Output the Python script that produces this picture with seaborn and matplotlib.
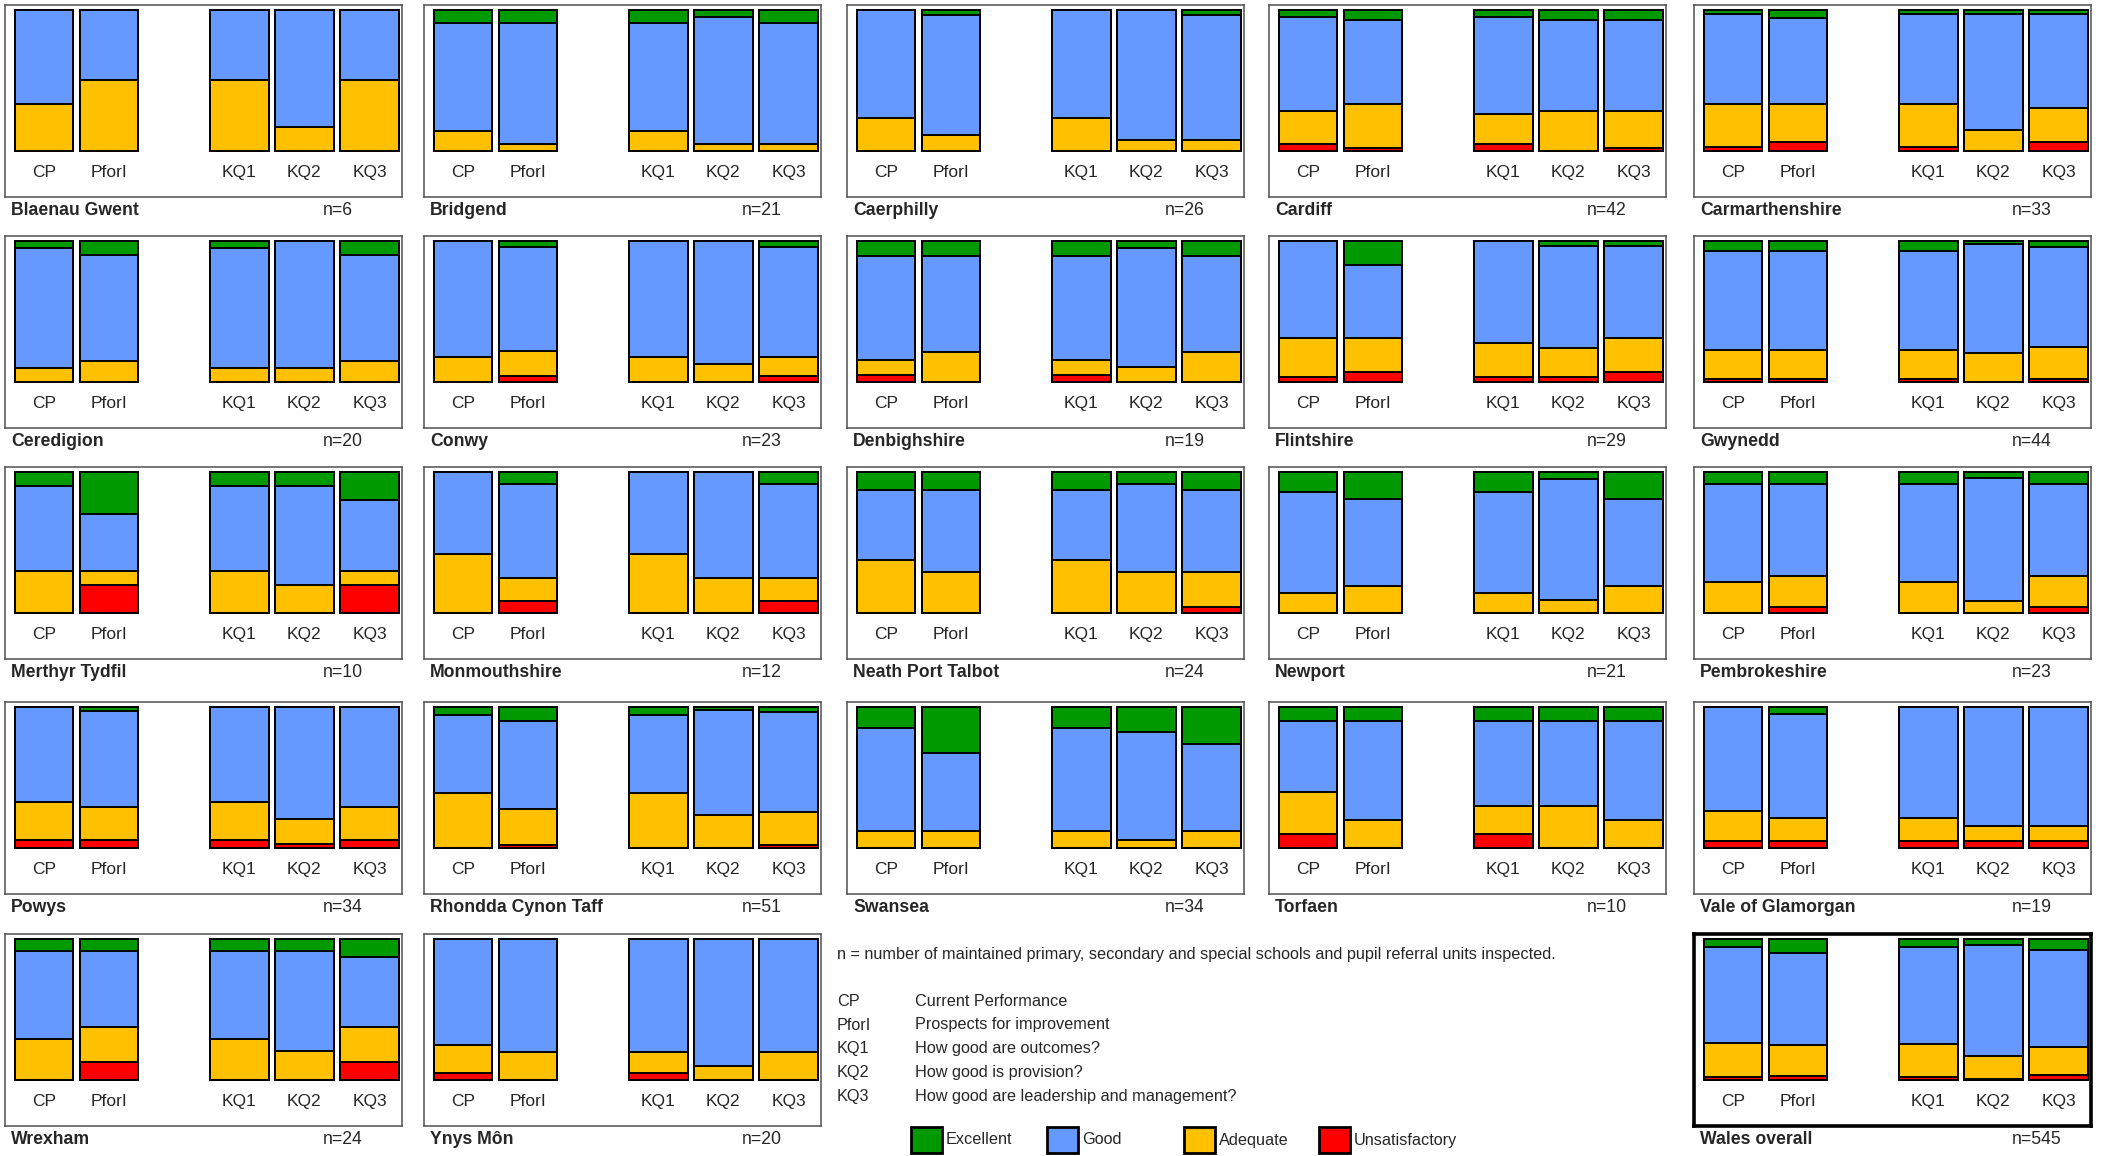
import matplotlib

matplotlib.use("Agg")
import matplotlib.pyplot as plt
import pandas as pd
import seaborn as sns
from matplotlib.patches import Rectangle

# --- data: counts of schools per judgement, questions in order CP, PforI, KQ1, KQ2, KQ3
areas = [
    "Blaenau Gwent", "Bridgend", "Caerphilly", "Cardiff", "Carmarthenshire",
    "Ceredigion", "Conwy", "Denbighshire", "Flintshire", "Gwynedd",
    "Merthyr Tydfil", "Monmouthshire", "Neath Port Talbot", "Newport", "Pembrokeshire",
    "Powys", "Rhondda Cynon Taff", "Swansea", "Torfaen", "Vale of Glamorgan",
    "Wrexham", "Ynys Môn", "Wales overall",
]
n_inspected = [6, 21, 26, 42, 33, 20, 23, 19, 29, 44, 10, 12, 24, 21, 23,
               34, 51, 34, 10, 19, 24, 20, 545]
questions = ["CP", "PforI", "KQ1", "KQ2", "KQ3"]
question_text = [
    "Current Performance",
    "Prospects for improvement",
    "How good are outcomes?",
    "How good is provision?",
    "How good are leadership and management?",
]
ratings = ["Excellent", "Good", "Adequate", "Unsatisfactory"]
rating_colors = ["#009900", "#6699FF", "#FFC000", "#FF0000"]

excellent = [
    [0, 0, 0, 0, 0], [2, 2, 2, 1, 2], [0, 1, 0, 0, 1], [2, 3, 2, 3, 3], [1, 2, 1, 1, 1],
    [1, 2, 1, 0, 2], [0, 1, 0, 0, 1], [2, 2, 2, 1, 2], [0, 5, 0, 1, 1], [3, 3, 3, 1, 2],
    [1, 3, 1, 1, 2], [0, 1, 0, 0, 1], [3, 3, 3, 2, 3], [3, 4, 3, 1, 4], [2, 2, 2, 1, 2],
    [0, 1, 0, 0, 0], [3, 5, 3, 1, 2], [5, 11, 5, 6, 9], [1, 1, 1, 1, 1], [0, 1, 0, 0, 0],
    [2, 2, 2, 2, 3], [0, 0, 0, 0, 0], [33, 56, 33, 23, 43],
]
good = [
    [4, 3, 3, 5, 3], [16, 18, 16, 19, 18], [20, 22, 20, 24, 23], [28, 25, 29, 27, 27], [21, 20, 21, 27, 22],
    [17, 15, 17, 18, 15], [19, 17, 19, 20, 18], [14, 13, 14, 16, 13], [20, 15, 21, 21, 19], [31, 31, 31, 34, 31],
    [6, 4, 6, 7, 5], [7, 8, 7, 9, 8], [12, 14, 12, 15, 14], [15, 13, 15, 18, 13], [16, 15, 16, 20, 15],
    [23, 23, 23, 27, 24], [28, 32, 28, 38, 36], [25, 19, 25, 26, 21], [5, 7, 6, 6, 7], [14, 14, 15, 16, 16],
    [15, 13, 15, 17, 12], [15, 16, 16, 18, 16], [370, 355, 372, 428, 373],
]
adequate = [
    [2, 3, 3, 1, 3], [3, 1, 3, 1, 1], [6, 3, 6, 2, 2], [10, 13, 9, 12, 11], [10, 9, 10, 5, 8],
    [2, 3, 2, 2, 3], [4, 4, 4, 3, 3], [2, 4, 2, 2, 4], [8, 7, 7, 6, 7], [9, 9, 9, 9, 10],
    [3, 1, 3, 2, 1], [5, 2, 5, 3, 2], [9, 7, 9, 7, 6], [3, 4, 3, 2, 4], [5, 5, 5, 2, 5],
    [9, 8, 9, 6, 8], [20, 13, 20, 12, 12], [4, 4, 4, 2, 4], [3, 2, 2, 3, 2], [4, 3, 3, 2, 2],
    [7, 6, 7, 5, 6], [4, 4, 3, 2, 4], [132, 117, 130, 90, 111],
]
unsatisfactory = [
    [0, 0, 0, 0, 0], [0, 0, 0, 0, 0], [0, 0, 0, 0, 0], [2, 1, 2, 0, 1], [1, 2, 1, 0, 2],
    [0, 0, 0, 0, 0], [0, 1, 0, 0, 1], [1, 0, 1, 0, 0], [1, 2, 1, 1, 2], [1, 1, 1, 0, 1],
    [0, 2, 0, 0, 2], [0, 1, 0, 0, 1], [0, 0, 0, 0, 1], [0, 0, 0, 0, 0], [0, 1, 0, 0, 1],
    [2, 2, 2, 1, 2], [0, 1, 0, 0, 1], [0, 0, 0, 0, 0], [1, 0, 1, 0, 0], [1, 1, 1, 1, 1],
    [0, 3, 0, 0, 3], [1, 0, 1, 0, 0], [10, 17, 10, 4, 18],
]

footnote = ("n = number of maintained primary, secondary and special schools "
            "and pupil referral units inspected.")

# --- layout (pixels of the 2109x1156 canvas)
W, H = 2109, 1156
col_left = [5, 424, 847, 1269, 1694]
row_top = [5, 236, 467, 702, 934]
box_w, box_h = 397, 192
panel_row = [0] * 5 + [1] * 5 + [2] * 5 + [3] * 5 + [4, 4, 4]
panel_col = [0, 1, 2, 3, 4] * 4 + [0, 1, 4]
bar_order = ["CP", "PforI", "", "KQ1", "KQ2", "KQ3"]

# long table with the top of each stacked segment (share of schools)
records = []
for i, area in enumerate(areas):
    for j, q in enumerate(questions):
        counts = [excellent[i][j], good[i][j], adequate[i][j], unsatisfactory[i][j]]
        total = n_inspected[i]
        for k, rating in enumerate(ratings):
            records.append({
                "area": area,
                "question": q,
                "rating": rating,
                "top": sum(counts[k:]) / total,
            })
df = pd.DataFrame(records)

sns.set_style("white")
plt.rcParams["font.family"] = ["Liberation Sans", "DejaVu Sans"]

fig = plt.figure(figsize=(W / 100, H / 100), dpi=100)

for i, area in enumerate(areas):
    x0 = col_left[panel_col[i]]
    y0 = row_top[panel_row[i]]
    ax = fig.add_axes([x0 / W, 1 - (y0 + box_h) / H, box_w / W, box_h / H])
    sub = df[df["area"] == area]
    # tallest segment first, each shorter one drawn on top of it
    for rating, color in zip(ratings, rating_colors):
        sns.barplot(
            data=sub[sub["rating"] == rating],
            x="question",
            y="top",
            order=bar_order,
            color=color,
            saturation=1,
            width=0.9,
            edgecolor="black",
            linewidth=1.4,
            errorbar=None,
            ax=ax,
        )
    ax.set_xlim(-0.6, 5.5)
    ax.set_ylim(-0.326, 1.035)
    ax.set_xticks([])
    ax.set_yticks([])
    ax.set_xlabel("")
    ax.set_ylabel("")
    for q in questions:
        ax.text(bar_order.index(q), -0.15, q, ha="center", va="center", fontsize=12.5)
    last = area == "Wales overall"
    for spine in ax.spines.values():
        spine.set_visible(True)
        spine.set_color("black" if last else "#505050")
        spine.set_linewidth(2.6 if last else 1.1)
    ax.text(0.015, -0.072, area, transform=ax.transAxes, ha="left", va="center",
            fontsize=12.7, fontweight="bold")
    ax.text(0.80, -0.072, f"n={n_inspected[i]}", transform=ax.transAxes,
            ha="left", va="center", fontsize=12.7)

# --- key
fig.text(837 / W, 1 - 955 / H, footnote, ha="left", va="center", fontsize=11.7)
key_y = [1001, 1025, 1048, 1072, 1096]
for q, txt, y in zip(questions, question_text, key_y):
    fig.text(837 / W, 1 - y / H, q, ha="left", va="center", fontsize=11.7)
    fig.text(915 / W, 1 - y / H, txt, ha="left", va="center", fontsize=11.7)

swatch_x = [911, 1047, 1184, 1319]
for rating, color, x in zip(ratings, rating_colors, swatch_x):
    fig.add_artist(Rectangle((x / W, 1 - 1153 / H), 31 / W, 26 / H,
                             transform=fig.transFigure, facecolor=color,
                             edgecolor="black", linewidth=2))
    fig.text((x + 35) / W, 1 - 1140 / H, rating, ha="left", va="center", fontsize=11.7)

fig.savefig("out.png", dpi=100, facecolor="white")
